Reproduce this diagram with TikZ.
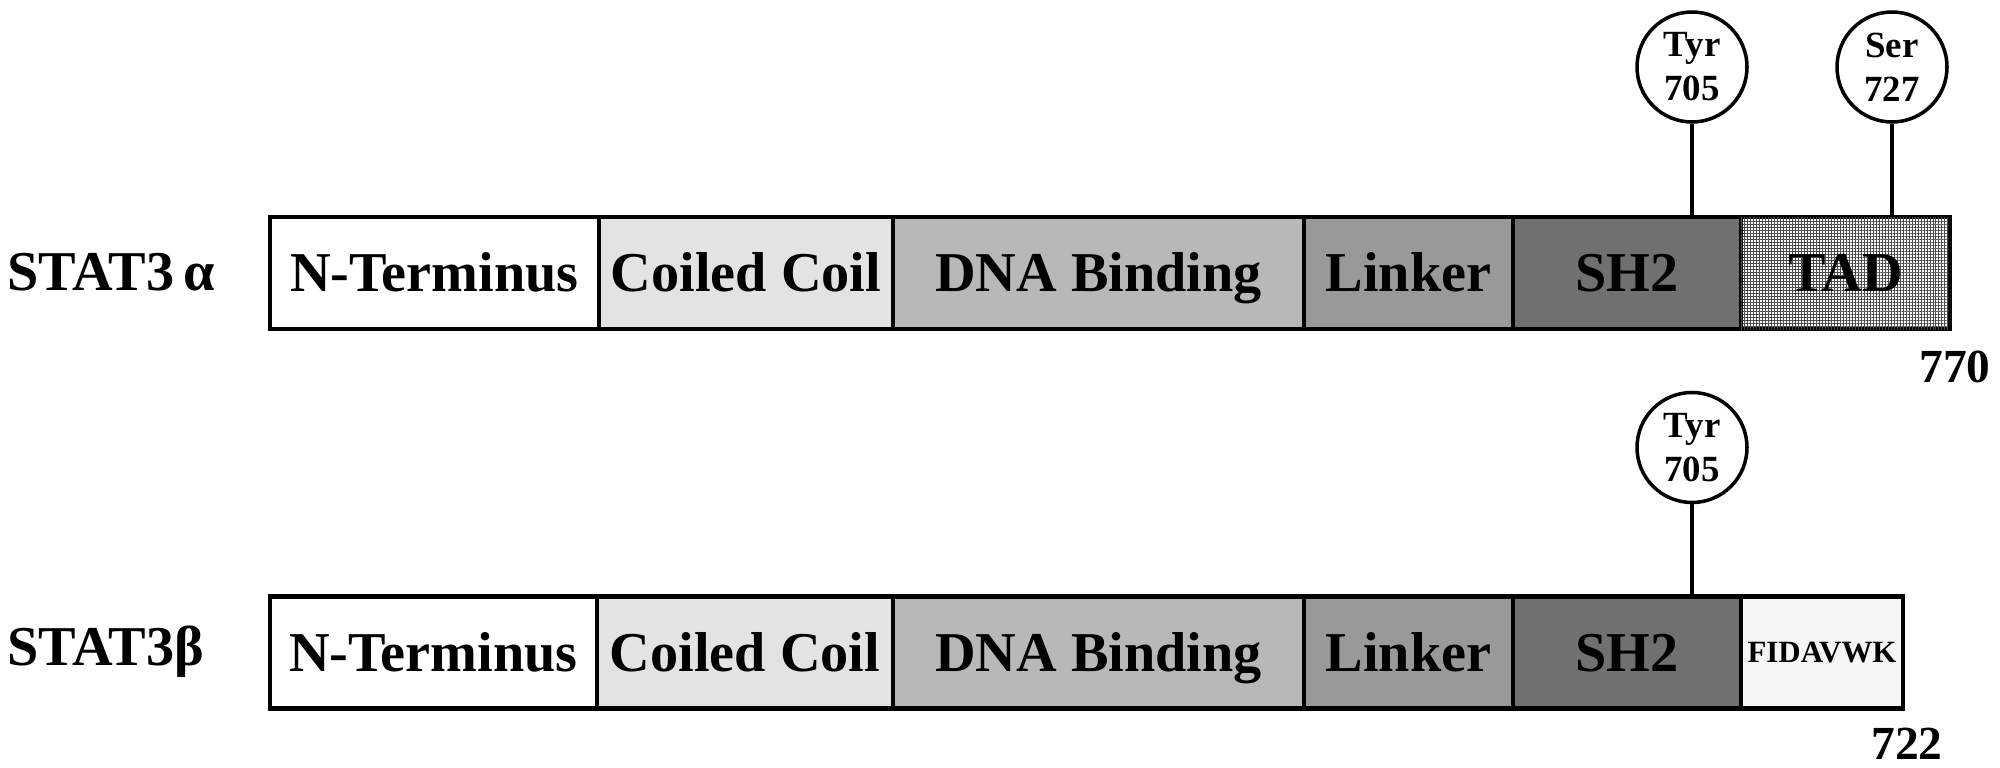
\documentclass[tikz,border=0pt]{standalone}
\usepackage{fontspec}
\setmainfont{Liberation Serif}
\usetikzlibrary{patterns.meta}

\begin{document}
\begin{tikzpicture}
	\useasboundingbox (0,0) rectangle (20,-7.68);

	% protein names
	\begin{scope}[every node/.style={anchor=west, inner sep=0pt, font=\fontsize{16}{18}\bfseries\selectfont}]
		\node (alpha) at (0.07,-2.72) {STAT3\,α};
		\node (beta) at (0.07,-6.52) {STAT3β};
	\end{scope}

	\begin{scope}[every node/.style={rectangle, draw, line width=1.2pt, inner sep=0pt,
	              minimum height=1.12cm, text height=13pt, text depth=2.4pt,
	              font=\fontsize{16}{18}\bfseries\selectfont}]
		% STAT3 alpha
		\node (aNT) [minimum width=3.29cm, fill=white] at (4.345,-2.73) {N-Terminus};
		\node (aCC) [minimum width=2.94cm, fill=black!11] at (7.46,-2.73) {Coiled Coil};
		\node (aDNA) [minimum width=4.11cm, fill=black!28] at (10.985,-2.73) {DNA Binding};
		\node (aLink) [minimum width=2.09cm, fill=black!40] at (14.085,-2.73) {Linker};
		\node (aSH2) [minimum width=2.28cm, fill=black!56] at (16.27,-2.73) {SH2};
		\node (aTAD) [minimum width=2.09cm, fill=white,
		              pattern={Lines[angle=0,distance=0.85pt,line width=0.2pt]}, pattern color=black!70,
		              postaction={pattern={Lines[angle=90,distance=0.85pt,line width=0.2pt]}, pattern color=black!70}]
		              at (18.455,-2.73) {TAD};
		% STAT3 beta
		\node (bNT) [minimum width=3.27cm, fill=white] at (4.335,-6.525) {N-Terminus};
		\node (bCC) [minimum width=2.96cm, fill=black!11] at (7.45,-6.525) {Coiled Coil};
		\node (bDNA) [minimum width=4.11cm, fill=black!28] at (10.985,-6.525) {DNA Binding};
		\node (bLink) [minimum width=2.09cm, fill=black!40] at (14.085,-6.525) {Linker};
		\node (bSH2) [minimum width=2.28cm, fill=black!56] at (16.27,-6.525) {SH2};
		\node (bEnd) [minimum width=1.62cm, fill=black!4, text height=7pt, text depth=1.2pt,
		              font=\fontsize{8.8}{10}\bfseries\selectfont] at (18.22,-6.525) {FIDAVWK};
	\end{scope}

	% lengths
	\begin{scope}[every node/.style={inner sep=0pt, font=\fontsize{13.5}{15}\bfseries\selectfont}]
		\node (aLen) at (19.55,-3.67) {770};
		\node (bLen) at (19.07,-7.44) {722};
	\end{scope}

	% phosphorylation sites
	\begin{scope}[every node/.style={circle, draw, fill=white, line width=1pt, inner sep=0pt,
	              minimum size=1.1cm, align=center, font=\fontsize{10.5}{12.5}\bfseries\selectfont}]
		\node (aTyr) at (16.92,-0.67) {Tyr\\705};
		\node (aSer) at (18.92,-0.67) {Ser\\727};
		\node (bTyr) at (16.92,-4.475) {Tyr\\705};
	\end{scope}

	\begin{scope}[line width=1pt]
		\draw (aTyr) -- (aTyr |- aSH2.north);
		\draw (aSer) -- (aSer |- aTAD.north);
		\draw (bTyr) -- (bTyr |- bSH2.north);
	\end{scope}
\end{tikzpicture}
\end{document}
